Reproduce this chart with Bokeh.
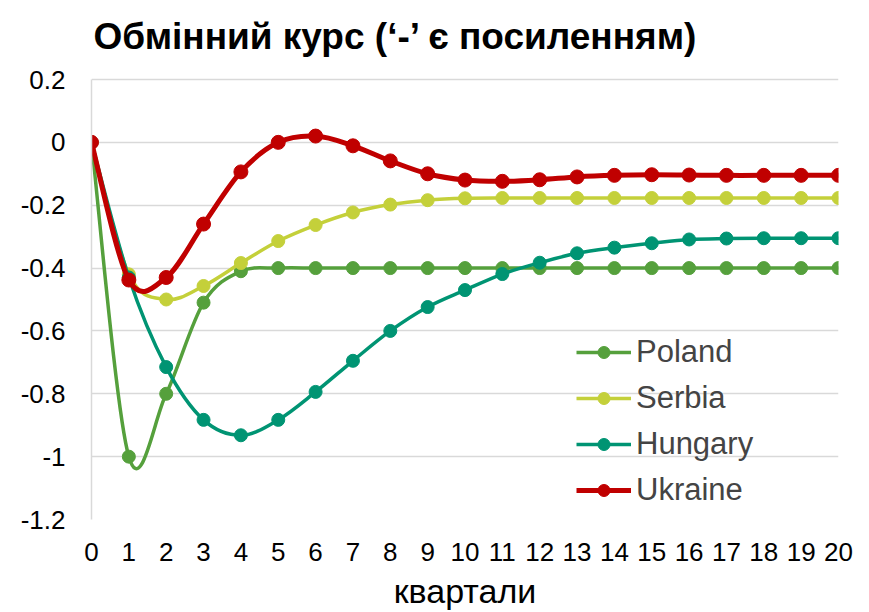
from bokeh.plotting import figure
from bokeh.models import Range1d, FixedTicker, Legend, LegendItem, Label
from bokeh.embed import file_html
from bokeh.resources import INLINE

quarters = list(range(21))
poland = [0, -1.0, -0.80, -0.51, -0.41, -0.40, -0.40, -0.40, -0.40, -0.40, -0.40,
          -0.40, -0.40, -0.40, -0.40, -0.40, -0.40, -0.40, -0.40, -0.40, -0.40]
serbia = [0, -0.42, -0.50, -0.457, -0.384, -0.314, -0.263, -0.223, -0.198, -0.184, -0.178,
          -0.177, -0.177, -0.177, -0.177, -0.177, -0.177, -0.177, -0.177, -0.177, -0.177]
hungary = [0, -0.43, -0.715, -0.883, -0.932, -0.883, -0.794, -0.695, -0.60, -0.524, -0.47,
           -0.419, -0.383, -0.353, -0.335, -0.321, -0.309, -0.306, -0.305, -0.305, -0.305]
ukraine = [0, -0.438, -0.43, -0.26, -0.094, 0.0, 0.02, -0.011, -0.059, -0.10, -0.12,
           -0.124, -0.119, -0.11, -0.105, -0.103, -0.104, -0.105, -0.105, -0.105, -0.105]

series_names = ["Poland", "Serbia", "Hungary", "Ukraine"]
series_vals = [poland, serbia, hungary, ukraine]
colors = ["#55A03C", "#C4D03A", "#009473", "#C00000"]
line_widths = [3.5, 3.5, 3.5, 5]
marker_sizes = [13, 13, 13, 14]

y_ticks = [-1.2, -1.0, -0.8, -0.6, -0.4, -0.2, 0.0, 0.2]
y_tick_labels = ["-1.2", "-1", "-0.8", "-0.6", "-0.4", "-0.2", "0", "0.2"]
x_ticks = list(range(21))

title_text = "Обмінний курс (‘-’ є посиленням)"
x_label = "квартали"
FONT = "Liberation Sans"

# layout (pixels)
W, H = 869, 612
LEFT, RIGHT_PAD, BOTTOM = 91, 31, 93
AXIS_TOP_PX = 79          # pixel row of the top y tick (0.2)
FRAME_H = H - BOTTOM      # frame runs from the canvas top down to the x axis
y_lo, y_hi = y_ticks[0], y_ticks[-1]
y_top = y_hi + (y_hi - y_lo) * AXIS_TOP_PX / (FRAME_H - AXIS_TOP_PX)


def smooth_segments(xs, ys, t=1.0 / 6.0):
    n = len(xs)
    seg = dict(x0=[], y0=[], x1=[], y1=[], cx0=[], cy0=[], cx1=[], cy1=[])
    for i in range(n - 1):
        p0 = i - 1 if i > 0 else i
        p3 = i + 2 if i + 2 < n else i + 1
        seg["x0"].append(xs[i]); seg["y0"].append(ys[i])
        seg["x1"].append(xs[i + 1]); seg["y1"].append(ys[i + 1])
        seg["cx0"].append(xs[i] + (xs[i + 1] - xs[p0]) * t)
        seg["cy0"].append(ys[i] + (ys[i + 1] - ys[p0]) * t)
        seg["cx1"].append(xs[i + 1] - (xs[p3] - xs[i]) * t)
        seg["cy1"].append(ys[i + 1] - (ys[p3] - ys[i]) * t)
    return seg


p = figure(width=W, height=H, output_backend="svg", toolbar_location=None,
           x_range=Range1d(quarters[0], quarters[-1]), y_range=Range1d(y_lo, y_top),
           min_border_left=LEFT, min_border_right=RIGHT_PAD, min_border_top=0,
           min_border_bottom=BOTTOM)
p.outline_line_color = None
p.background_fill_color = "white"

title_lbl = Label(x=2, y=FRAME_H - 36, x_units="screen", y_units="screen", text=title_text,
                  text_font=FONT, text_font_size="37px", text_font_style="bold",
                  text_color="#000000", text_baseline="alphabetic", text_align="left")
p.add_layout(title_lbl)

p.xgrid.visible = False
p.ygrid.grid_line_color = "#D9D9D9"
p.ygrid.grid_line_width = 1.5
p.ygrid.ticker = FixedTicker(ticks=y_ticks)

p.yaxis.ticker = FixedTicker(ticks=y_ticks)
p.yaxis.bounds = (y_lo, y_hi)
p.yaxis.major_label_overrides = dict(zip(y_ticks, y_tick_labels))
p.yaxis.axis_line_color = "#D9D9D9"
p.yaxis.axis_line_width = 1.5
p.yaxis.major_tick_line_color = None
p.yaxis.minor_tick_line_color = None
p.yaxis.major_label_standoff = 20
p.yaxis.major_label_text_font = FONT
p.yaxis.major_label_text_font_size = "26px"
p.yaxis.major_label_text_color = "#000000"

p.xaxis.ticker = FixedTicker(ticks=x_ticks)
p.xaxis.axis_line_color = None
p.xaxis.major_tick_line_color = None
p.xaxis.minor_tick_line_color = None
p.xaxis.major_label_standoff = 17
p.xaxis.major_label_text_font = FONT
p.xaxis.major_label_text_font_size = "26px"
p.xaxis.major_label_text_color = "#000000"
p.xaxis.axis_label = x_label
p.xaxis.axis_label_text_font = FONT
p.xaxis.axis_label_text_font_size = "34px"
p.xaxis.axis_label_text_font_style = "normal"
p.xaxis.axis_label_text_color = "#000000"
p.xaxis.axis_label_standoff = 8

items = []
for name, vals, c, lw, ms in zip(series_names, series_vals, colors, line_widths, marker_sizes):
    seg = smooth_segments(quarters, vals)
    r_line = p.bezier(x0="x0", y0="y0", x1="x1", y1="y1", cx0="cx0", cy0="cy0",
                      cx1="cx1", cy1="cy1", source=seg, line_color=c, line_width=lw)
    r_pts = p.scatter(quarters, vals, size=ms, fill_color=c, line_color=c)
    items.append(LegendItem(label=name, renderers=[r_line, r_pts]))

legend = Legend(items=items, location=(485, 11), glyph_width=55, glyph_height=30,
                label_height=30, spacing=10, padding=0, margin=0, label_standoff=5,
                label_text_font=FONT, label_text_font_size="31px",
                border_line_color=None, background_fill_alpha=0)
p.add_layout(legend, "center")

open("out.html", "w").write(file_html(p, INLINE))
